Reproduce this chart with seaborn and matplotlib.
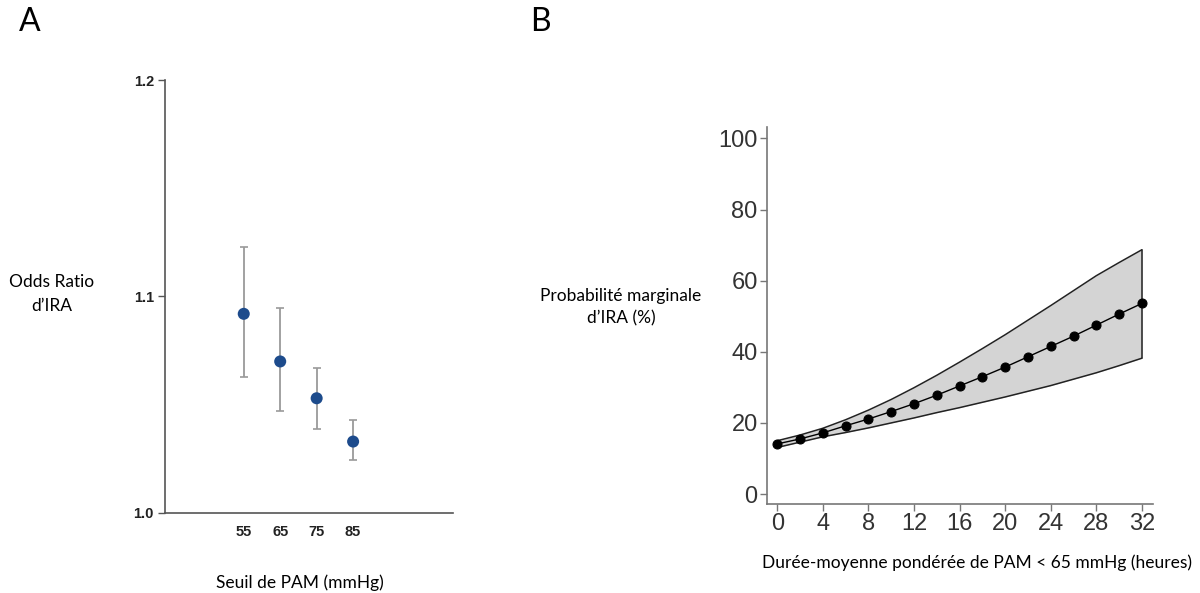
import numpy as np
import pandas as pd
import matplotlib
matplotlib.use("Agg")
import matplotlib.pyplot as plt
import seaborn as sns

# ---------------- data ----------------
# Panel A
map_thresholds = [55, 65, 75, 85]
odds_ratio = [1.092, 1.070, 1.053, 1.033]
or_lower = [1.063, 1.047, 1.039, 1.0245]
or_upper = [1.123, 1.0945, 1.067, 1.043]
a_yticks = [1.0, 1.1, 1.2]

# Panel B
hours = [0, 2, 4, 6, 8, 10, 12, 14, 16, 18, 20, 22, 24, 26, 28, 30, 32]
prob = [14.1, 15.5, 17.2, 19.2, 21.1, 23.2, 25.4, 27.8, 30.4, 33.0, 35.7,
        38.6, 41.5, 44.4, 47.5, 50.6, 53.6]
prob_upper = [15.0, 16.6, 18.5, 20.9, 23.6, 26.6, 29.9, 33.4, 37.1, 40.9,
              44.8, 48.9, 53.0, 57.2, 61.4, 65.1, 68.7]
prob_lower = [13.1, 14.6, 16.1, 17.3, 18.6, 20.0, 21.4, 22.9, 24.3, 25.8,
              27.3, 28.9, 30.5, 32.3, 34.1, 36.1, 38.2]
b_xticks = [0, 4, 8, 12, 16, 20, 24, 28, 32]
b_yticks = [0, 20, 40, 60, 80, 100]

# ---------------- figure ----------------
sns.set_theme(style="white")
plt.rcParams['font.family'] = ['Lato', 'DejaVu Sans']

W, H = 1200, 593
fig = plt.figure(figsize=(W / 100, H / 100), dpi=100)
fig.patch.set_facecolor("white")


def px_axes(left, top, right, bottom):
    return fig.add_axes([left / W, 1 - bottom / H, (right - left) / W, (bottom - top) / H])


# ---------- Panel A ----------
axA = px_axes(165, 80, 453, 513)
dfA = pd.DataFrame({"seuil": map_thresholds, "or": odds_ratio})
err = np.array([np.array(odds_ratio) - np.array(or_lower),
                np.array(or_upper) - np.array(odds_ratio)])
axA.errorbar(map_thresholds, odds_ratio, yerr=err, fmt="none",
             ecolor="#9a9a9a", elinewidth=1.3, capsize=3, capthick=1.2, zorder=2)
sns.scatterplot(data=dfA, x="seuil", y="or", ax=axA, color="#1d4b8c",
                s=75, edgecolor="none", zorder=3)
axA.set_xlim(33.4, 112.4)
axA.set_ylim(1.0, 1.2)
axA.set_xticks(map_thresholds)
axA.set_yticks(a_yticks)
axA.set_yticklabels([f"{v:.1f}" for v in a_yticks])
for lab in axA.get_xticklabels() + axA.get_yticklabels():
    lab.set_fontfamily(['Liberation Sans', 'DejaVu Sans'])
    lab.set_fontweight('bold')
    lab.set_fontsize(10.5)
    lab.set_color("#222222")
axA.tick_params(axis='y', which='both', left=True, length=5, width=1, color="#555555", pad=3)
axA.tick_params(axis='x', which='both', bottom=False, pad=3)
for s in ["top", "right"]:
    axA.spines[s].set_visible(False)
for s in ["left", "bottom"]:
    axA.spines[s].set_color("#555555")
    axA.spines[s].set_linewidth(1.2)
axA.set_xlabel("")
axA.set_ylabel("")
axA.set_facecolor("white")

# ---------- Panel B ----------
axB = px_axes(766.7, 126.7, 1152.7, 504)
axB.fill_between(hours, prob_lower, prob_upper, color="#d4d4d4", linewidth=0, zorder=1)
axB.plot(hours, prob_upper, color="#222222", linewidth=1.1, zorder=2)
axB.plot(hours, prob_lower, color="#222222", linewidth=1.1, zorder=2)
axB.plot([hours[-1], hours[-1]], [prob_lower[-1], prob_upper[-1]],
         color="#222222", linewidth=1.1, zorder=2)
dfB = pd.DataFrame({"h": hours, "p": prob})
sns.lineplot(data=dfB, x="h", y="p", ax=axB, color="black", linewidth=1.0,
             marker="o", markersize=6.5, markeredgecolor="black", zorder=3)
axB.set_xlim(-0.93, 32.95)
axB.set_ylim(-2.8, 103.3)
axB.set_xticks(b_xticks)
axB.set_yticks(b_yticks)
for lab in axB.get_xticklabels() + axB.get_yticklabels():
    lab.set_fontfamily(['Liberation Sans', 'DejaVu Sans'])
    lab.set_fontsize(17)
    lab.set_color("#333333")
axB.tick_params(axis='both', which='both', left=True, bottom=True, length=5,
                width=1, color="#777777", pad=1.5)
for s in ["top", "right"]:
    axB.spines[s].set_visible(False)
for s in ["left", "bottom"]:
    axB.spines[s].set_color("#777777")
    axB.spines[s].set_linewidth(1.2)
axB.set_xlabel("")
axB.set_ylabel("")
axB.set_facecolor("white")

# ---------- text labels ----------
def px_text(x, y, s, **kw):
    fig.text(x / W, 1 - y / H, s, **kw)


px_text(30, 22, "A", fontsize=23, ha="center", va="center", color="black")
px_text(540, 22, "B", fontsize=23, ha="center", va="center", color="black")
px_text(52, 294, "Odds Ratio\nd\u2019IRA", fontsize=12.5, ha="center", va="center",
        linespacing=1.6, color="black")
px_text(300, 583, "Seuil de PAM (mmHg)", fontsize=12.5, ha="center", va="center",
        color="black")
px_text(621, 307, "Probabilit\u00e9 marginale\nd\u2019IRA (%)", fontsize=12.5,
        ha="center", va="center", linespacing=1.5, color="black")
px_text(977, 563, "Dur\u00e9e-moyenne pond\u00e9r\u00e9e de PAM < 65 mmHg (heures)",
        fontsize=12.5, ha="center", va="center", color="black")

fig.savefig("out.png", dpi=100, facecolor="white")
